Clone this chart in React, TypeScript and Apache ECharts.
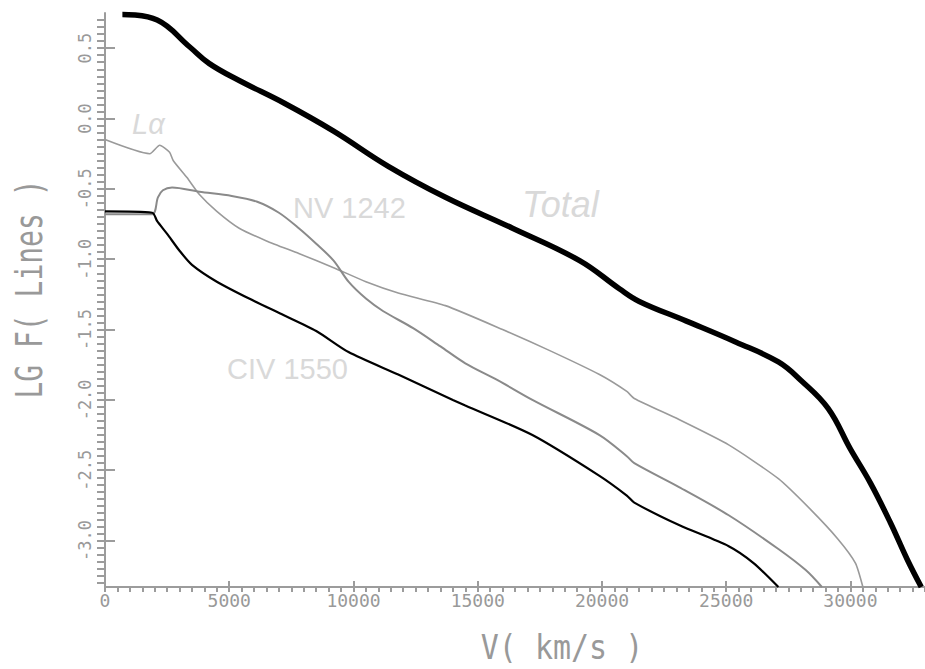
import React, { useEffect, useRef } from "react";
import * as echarts from "echarts";

// Velocity (km/s) and log flux for each line profile
const totalV = [700, 2100, 3400, 4200, 5400, 7200, 9200, 11400, 13700, 16400, 19100, 20700, 21500, 23400, 25400, 27100, 28000, 29100, 30000, 30800, 31600, 32300, 32850];
const totalLg = [0.74, 0.7, 0.51, 0.39, 0.27, 0.11, -0.09, -0.34, -0.56, -0.78, -1.01, -1.21, -1.3, -1.44, -1.59, -1.73, -1.86, -2.06, -2.35, -2.59, -2.87, -3.14, -3.33];

const lyaV = [0, 1800, 2200, 2600, 2750, 3300, 3800, 4500, 5400, 6500, 7800, 9200, 10500, 11800, 13700, 16000, 17900, 19900, 21000, 21300, 23100, 25100, 27100, 28400, 29500, 30200, 30500];
const lyaLg = [-0.15, -0.25, -0.19, -0.24, -0.3, -0.42, -0.54, -0.66, -0.78, -0.87, -0.96, -1.06, -1.16, -1.24, -1.33, -1.5, -1.65, -1.82, -1.94, -1.99, -2.14, -2.32, -2.56, -2.78, -2.99, -3.16, -3.33];

const nvV = [0, 1900, 2130, 2330, 2700, 3800, 5100, 6100, 7000, 7800, 8500, 9200, 9800, 10500, 11200, 12400, 13500, 14500, 15800, 17200, 19900, 21000, 21300, 23100, 25100, 27100, 28200, 28850];
const nvLg = [-0.68, -0.68, -0.56, -0.51, -0.49, -0.52, -0.55, -0.59, -0.67, -0.78, -0.89, -1.01, -1.16, -1.28, -1.37, -1.49, -1.62, -1.74, -1.86, -2.0, -2.25, -2.4, -2.45, -2.62, -2.82, -3.06, -3.21, -3.33];

const civV = [0, 1900, 2100, 2500, 3000, 3500, 4500, 5800, 7100, 8500, 9800, 11800, 14000, 14500, 17200, 19900, 21000, 21300, 23100, 25100, 26100, 27100];
const civLg = [-0.66, -0.67, -0.73, -0.82, -0.94, -1.04, -1.16, -1.28, -1.39, -1.51, -1.66, -1.82, -2.0, -2.04, -2.25, -2.54, -2.68, -2.73, -2.89, -3.04, -3.16, -3.33];

const xMajor = [0, 5000, 10000, 15000, 20000, 25000, 30000];
const yMajor = [-3.0, -2.5, -2.0, -1.5, -1.0, -0.5, 0.0, 0.5];

const X_MIN = 0;
const X_MAX = 33000;
const Y_MIN = -3.33;
const Y_MAX = 0.75;

const xMinor: number[] = [];
for (let v = 0; v <= X_MAX; v += 500) xMinor.push(v);
const yMinor: number[] = [];
for (let k = -66; k <= 14; k++) yMinor.push(Math.round(k * 5) / 100);

const zip = (a: number[], b: number[]) => a.map((v, i) => [v, b[i]]);

const AXIS = "#9c9c9c";
const LABEL = "#999999";
const NOTE = "#d9d9d9";
const MONO = '"DejaVu Sans Mono", monospace';
const SANS = '"Liberation Sans", Arial, sans-serif';

export default function App() {
  const ref = useRef<HTMLDivElement>(null);
  useEffect(() => {
    if (!ref.current) return;
    const chart = echarts.init(ref.current, undefined, { renderer: "svg" });
    const yFmt = (v: number) => v.toFixed(1);
    chart.setOption({
      animation: false,
      backgroundColor: "#ffffff",
      grid: { left: 105, right: 0, top: 13, bottom: 82, containLabel: false },
      xAxis: [
        {
          type: "value",
          min: X_MIN,
          max: X_MAX,
          position: "bottom",
          axisLine: { show: true, onZero: false, lineStyle: { color: AXIS, width: 2 } },
          axisTick: { show: true, inside: true, length: 6, customValues: xMajor, lineStyle: { color: AXIS, width: 2 } },
          axisLabel: {
            customValues: xMajor,
            color: LABEL,
            fontFamily: MONO,
            fontSize: 18,
            margin: 4,
            formatter: (v: number) => String(v),
          },
          splitLine: { show: false },
        },
        {
          type: "value",
          min: X_MIN,
          max: X_MAX,
          position: "bottom",
          axisLine: { show: false, onZero: false },
          axisTick: { show: true, inside: false, length: 5, customValues: xMinor, lineStyle: { color: AXIS, width: 2 } },
          axisLabel: { show: false },
          splitLine: { show: false },
        },
      ],
      yAxis: [
        {
          type: "value",
          min: Y_MIN,
          max: Y_MAX,
          position: "left",
          axisLine: { show: true, onZero: false, lineStyle: { color: AXIS, width: 2 } },
          axisTick: { show: true, inside: true, length: 10, customValues: yMajor, lineStyle: { color: AXIS, width: 2 } },
          axisLabel: {
            customValues: yMajor,
            rotate: 90,
            color: LABEL,
            fontFamily: MONO,
            fontSize: 17,
            margin: 12,
            formatter: yFmt,
          },
          splitLine: { show: false },
        },
        {
          type: "value",
          min: Y_MIN,
          max: Y_MAX,
          position: "left",
          axisLine: { show: false, onZero: false },
          axisTick: { show: true, inside: false, length: 8, customValues: yMinor, lineStyle: { color: AXIS, width: 2 } },
          axisLabel: { show: false },
          splitLine: { show: false },
        },
      ],
      series: [
        {
          name: "Lα",
          type: "line",
          data: zip(lyaV, lyaLg),
          showSymbol: false,
          smooth: 0.2,
          lineStyle: { color: "#9a9a9a", width: 1.6 },
        },
        {
          name: "NV 1242",
          type: "line",
          data: zip(nvV, nvLg),
          showSymbol: false,
          smooth: 0.3,
          lineStyle: { color: "#8a8a8a", width: 2 },
        },
        {
          name: "CIV 1550",
          type: "line",
          data: zip(civV, civLg),
          showSymbol: false,
          smooth: 0.25,
          lineStyle: { color: "#000000", width: 2.2 },
        },
        {
          name: "Total",
          type: "line",
          data: zip(totalV, totalLg),
          showSymbol: false,
          smooth: 0.4,
          lineStyle: { color: "#000000", width: 5.5 },
        },
      ],
      graphic: [
        {
          type: "text",
          x: 29,
          y: 289,
          rotation: Math.PI / 2,
          scaleY: 1.35,
          style: { text: "LG F( Lines )", font: `28px ${MONO}`, fill: LABEL, align: "center", verticalAlign: "middle" },
        },
        {
          type: "text",
          x: 562,
          y: 647,
          scaleY: 1.15,
          style: { text: "V( km/s )", font: `30px ${MONO}`, fill: LABEL, align: "center", verticalAlign: "middle" },
        },
        {
          type: "text",
          x: 132,
          y: 124,
          style: { text: "Lα", font: `italic 29px ${SANS}`, fill: NOTE, align: "left", verticalAlign: "middle" },
        },
        {
          type: "text",
          x: 293,
          y: 208,
          style: { text: "NV 1242", font: `29px ${SANS}`, fill: NOTE, align: "left", verticalAlign: "middle" },
        },
        {
          type: "text",
          x: 522,
          y: 204,
          style: { text: "Total", font: `italic 36px ${SANS}`, fill: NOTE, align: "left", verticalAlign: "middle" },
        },
        {
          type: "text",
          x: 227,
          y: 369,
          style: { text: "CIV 1550", font: `29px ${SANS}`, fill: NOTE, align: "left", verticalAlign: "middle" },
        },
      ],
    });
    return () => chart.dispose();
  }, []);
  return (
    <div
      ref={ref}
      style={{ position: "fixed", left: 0, top: 0, width: 925, height: 669, background: "#fff" }}
    />
  );
}
